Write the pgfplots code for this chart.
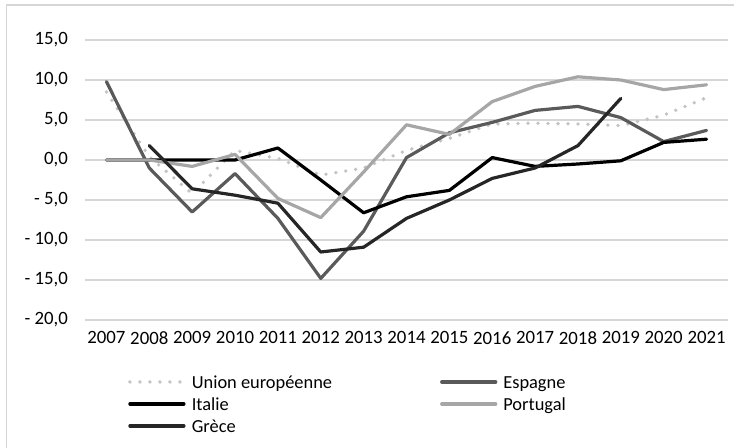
\documentclass[border=0pt]{standalone}
\usepackage{pgfplots}
\pgfplotsset{compat=1.18}
\usepackage{fontspec}
\setmainfont{Carlito}
\definecolor{cUE}{HTML}{C4C4C4}
\definecolor{cES}{HTML}{5A5A5A}
\definecolor{cIT}{HTML}{000000}
\definecolor{cPT}{HTML}{A6A6A6}
\definecolor{cGR}{HTML}{262626}
\definecolor{cGrid}{HTML}{D6D6D6}
\begin{document}
\begin{tikzpicture}
\useasboundingbox (0,0) rectangle (734bp,448bp);
\draw[color=cGrid, line width=1.6bp] (6.5bp,0) -- (6.5bp,443bp) -- (734bp,443bp);
\begin{axis}[
  at={(85bp,128bp)}, anchor=south west,
  scale only axis, width=643bp, height=280bp,
  xmin=-0.5, xmax=14.5, ymin=-20, ymax=15,
  axis line style={draw=none},
  major tick length=0pt,
  xtick={0,...,14},
  xticklabels={2007,2008,2009,2010,2011,2012,2013,2014,2015,2016,2017,2018,2019,2020,2021},
  ytick={-20,-15,-10,-5,0,5,10,15},
  yticklabels={- 20{,}0,- 15{,}0,- 10{,}0,- 5{,}0,0{,}0,5{,}0,10{,}0,15{,}0},
  ymajorgrids, grid style={color=cGrid, line width=1.3bp},
  font=\fontsize{18.8bp}{22bp}\selectfont,
  xticklabel style={anchor=north, inner sep=0pt, yshift=-11.5bp},
  yticklabel style={anchor=east, inner sep=0pt, xshift=-17bp},
  legend columns=2,
  legend style={draw=none, fill=none, inner sep=0pt, outer sep=0pt,
    at={(axis description cs:0.0669,-0.198)}, anchor=north west,
    row sep=5bp,
    nodes={inner sep=0pt, text height=13bp, text depth=4bp, anchor=base west},
    /tikz/every odd column/.style={column sep=6bp},
    /tikz/every even column/.style={column sep=108bp},
    font=\fontsize{18.4bp}{22bp}\selectfont},
  legend image code/.code={\draw[#1] (0bp,6.5bp) -- (54bp,6.5bp);},
  every axis plot/.append style={line width=3.2bp, line join=round, line cap=round},
]
\addplot[color=cUE, line width=3.8bp, dash pattern=on 0pt off 10bp] coordinates {
(0,8.5) (1,0.4) (2,-4.2) (3,1.2) (4,0.2) (5,-1.9) (6,-1.0) (7,1.2) (8,2.7) (9,4.5) (10,4.6) (11,4.5) (12,4.3) (13,5.6) (14,7.8)};
\addlegendentry{Union européenne}
\addplot[color=cES] coordinates {
(0,9.8) (1,-1.0) (2,-6.5) (3,-1.7) (4,-7.3) (5,-14.8) (6,-8.9) (7,0.3) (8,3.4) (9,4.7) (10,6.2) (11,6.7) (12,5.3) (13,2.3) (14,3.7)};
\addlegendentry{Espagne}
\addplot[color=cIT] coordinates {
(0,0) (1,0) (2,0) (3,0) (4,1.5) (5,-2.5) (6,-6.6) (7,-4.6) (8,-3.8) (9,0.3) (10,-0.8) (11,-0.5) (12,-0.1) (13,2.2) (14,2.6)};
\addlegendentry{Italie}
\addplot[color=cPT] coordinates {
(0,0) (1,0) (2,-0.8) (3,0.7) (4,-4.8) (5,-7.2) (6,-1.5) (7,4.4) (8,3.2) (9,7.3) (10,9.2) (11,10.4) (12,10.0) (13,8.8) (14,9.4)};
\addlegendentry{Portugal}
\addplot[color=cGR] coordinates {
(1,1.8) (2,-3.6) (3,-4.4) (4,-5.4) (5,-11.5) (6,-10.9) (7,-7.3) (8,-5.0) (9,-2.3) (10,-1.0) (11,1.8) (12,7.7)};
\addlegendentry{Grèce}
\end{axis}
\end{tikzpicture}
\end{document}
